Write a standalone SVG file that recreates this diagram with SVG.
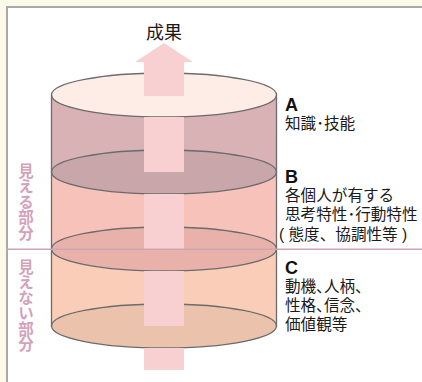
<svg xmlns="http://www.w3.org/2000/svg" width="422" height="382" viewBox="0 0 422 382">
<style>
.jp{font-family:"Liberation Sans","Noto Sans CJK JP",sans-serif;fill:#1a1a1a}
.lbl{font-family:"Liberation Sans","Noto Sans CJK JP",sans-serif;font-size:18px;font-weight:bold;fill:#111}
.desc{font-family:"Liberation Sans","Noto Sans CJK JP",sans-serif;font-size:15.6px;fill:#1a1a1a}
.side{font-family:"Noto Sans CJK JP",sans-serif;font-size:15.5px;font-weight:bold;fill:#d3a1ba;writing-mode:vertical-rl;text-orientation:upright}
.edge{stroke:#6b6b6b;stroke-width:1.3}
.arrow{fill:#f8d0d2}
</style>
<rect x="0" y="0" width="422" height="382" fill="#fdf9e9"/>
<rect x="7" y="7" width="420" height="380" fill="#ffffff" stroke="#a9a9a9" stroke-width="2"/>

<g id="cylinder">
  <g id="layer-c">
    <rect x="51.5" y="249" width="225" height="77" fill="#f9cdb7"/>
    <ellipse cx="164" cy="326" rx="112.5" ry="22" fill="#ebc3ad" class="edge"/>
  </g>
  <g id="layer-b">
    <rect x="51.5" y="172" width="225" height="77" fill="#f6c2ba"/>
    <ellipse cx="164" cy="249" rx="112.5" ry="22" fill="#e8b2ab" class="edge"/>
  </g>
  <g id="layer-a">
    <rect x="51.5" y="95" width="225" height="77" fill="#d9b2b6"/>
    <ellipse cx="164" cy="172" rx="112.5" ry="22" fill="#c9a6a9" class="edge"/>
    <ellipse cx="164" cy="95" rx="112.5" ry="22" fill="#feede6" class="edge"/>
  </g>
  <line x1="51.5" y1="95" x2="51.5" y2="326" class="edge"/>
  <line x1="276.5" y1="95" x2="276.5" y2="326" class="edge"/>
</g>

<g id="connectors">
  <polygon class="arrow" points="164,43 193,62 184,62 184,96 144,96 144,62 135,62"/>
  <rect class="arrow" x="144" y="117" width="40" height="55"/>
  <rect class="arrow" x="144" y="194" width="40" height="55"/>
  <rect class="arrow" x="144" y="271" width="40" height="55"/>
  <rect class="arrow" x="144" y="348" width="40" height="22"/>
  <line x1="7" y1="249.3" x2="422" y2="249.3" stroke="#cfa3b5" stroke-width="1.5"/>
</g>

<g id="title">
  <text x="164" y="38.5" text-anchor="middle" class="jp" font-size="18">成果</text>
</g>

<g id="side-visible">
  <text x="26" y="163" class="side">見える部分</text>
</g>
<g id="side-hidden">
  <text x="26" y="259" class="side">見えない部分</text>
</g>

<g id="node-a">
  <text x="285" y="110.5" class="lbl">A</text>
  <text x="285" y="129" class="desc">知識･技能</text>
</g>
<g id="node-b">
  <text x="285" y="183" class="lbl">B</text>
  <text x="285" y="200.5" class="desc">各個人が有する</text>
  <text x="285" y="220" class="desc">思考特性･行動特性</text>
  <text x="279" y="239.5" class="desc">( 態度、協調性等 )</text>
</g>
<g id="node-c">
  <text x="285" y="274" class="lbl">C</text>
  <text x="285" y="292" class="desc" style="font-feature-settings:'palt'">動機、人柄、</text>
  <text x="285" y="311" class="desc" style="font-feature-settings:'palt'">性格、信念、</text>
  <text x="285" y="329.5" class="desc">価値観等</text>
</g>
</svg>
